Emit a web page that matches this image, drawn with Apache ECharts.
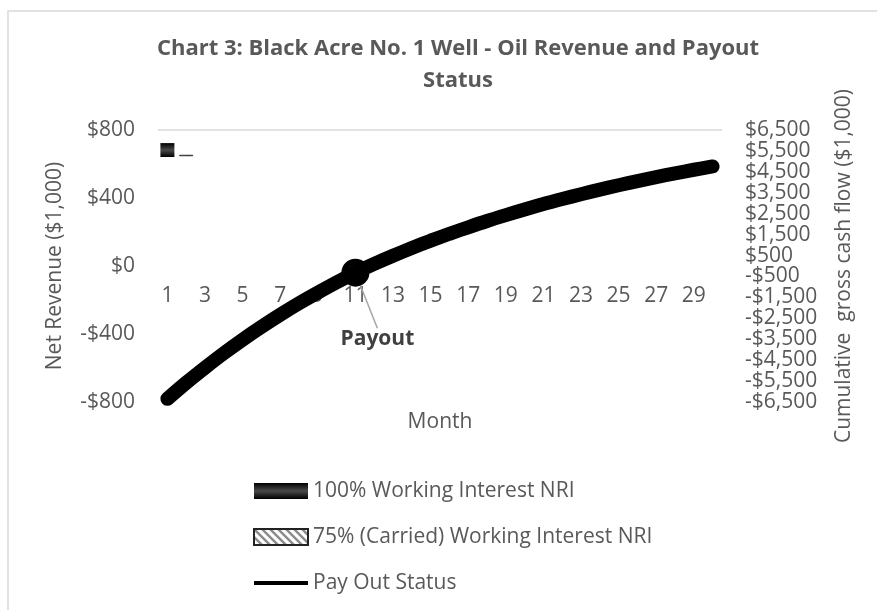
<!DOCTYPE html>
<html>
<head>
<meta charset="utf-8">
<script src="https://cdn.jsdelivr.net/npm/echarts@6/dist/echarts.min.js"></script>
<style>
    html, body {margin: 0; padding: 0; background: #fff;}
    #chart {width: 877px; height: 610px;}
</style>
</head>
<body>
<div id="chart"></div>
<script>
// 数据
const months = ['1', '2', '3', '4', '5', '6', '7', '8', '9', '10', '11', '12', '13', '14', '15',
    '16', '17', '18', '19', '20', '21', '22', '23', '24', '25', '26', '27', '28', '29', '30'];
// net revenue bars ($1,000), only a sliver is shown for the first months
const nri100Top = [723, null];
const nri100Bottom = [641, null];
const nri75Top = [null, 654];
const nri75Bottom = [null, 646];
// cumulative gross cash flow ($1,000)
const payoutStatus = [-6350, -5580, -4860, -4170, -3520, -2910, -2330, -1780, -1270, -780,
    -320, 100, 490, 860, 1210, 1540, 1850, 2150, 2430, 2700,
    2960, 3200, 3430, 3650, 3860, 4060, 4250, 4430, 4600, 4760];
const payoutMonth = '11';
const leftTicks = [-800, -400, 0, 400, 800];

const FONT = '"Open Sans", "Noto Sans", sans-serif';
const GREY = '#595959';

function money(v) {
    let s = '$' + Math.abs(v).toLocaleString('en-US');
    return v < 0 ? '-' + s : s;
}

// hatched fill for the carried interest bars
function stripes() {
    let c = document.createElement('canvas');
    c.width = 8;
    c.height = 8;
    let ctx = c.getContext('2d');
    ctx.fillStyle = '#fff';
    ctx.fillRect(0, 0, 8, 8);
    ctx.strokeStyle = '#8c8c8c';
    ctx.lineWidth = 2.5;
    ctx.beginPath();
    ctx.moveTo(-2, -2);
    ctx.lineTo(10, 10);
    ctx.moveTo(-6, 2);
    ctx.lineTo(2, 10);
    ctx.moveTo(6, -2);
    ctx.lineTo(10, 2);
    ctx.stroke();
    return {image: c, repeat: 'repeat'};
}

const darkBar = new echarts.graphic.LinearGradient(0, 0, 0, 1, [
    {offset: 0, color: '#000'},
    {offset: 0.5, color: '#4a4a4a'},
    {offset: 1, color: '#000'}
]);

let chart = echarts.init(document.getElementById('chart'));
let payoutIdx = months.indexOf(payoutMonth);

chart.setOption({
    animation: false,
    textStyle: {fontFamily: FONT},
    title: {
        text: 'Chart 3: Black Acre No. 1 Well - Oil Revenue and Payout\nStatus',
        left: 458,
        top: 33,
        textAlign: 'center',
        padding: 0,
        textStyle: {fontSize: 22, fontWeight: 'bold', color: GREY, lineHeight: 32, fontFamily: FONT}
    },
    graphic: [{
        type: 'rect',
        shape: {x: 8, y: 11, width: 900, height: 700},
        style: {fill: 'none', stroke: '#d9d9d9', lineWidth: 1.5},
        silent: true
    }],
    legend: {
        orient: 'vertical',
        left: 253,
        top: 480,
        padding: 0,
        itemWidth: 54,
        itemHeight: 16,
        itemGap: 24,
        textStyle: {fontSize: 21, color: GREY, lineHeight: 22, fontFamily: FONT},
        data: [
            {name: '100% Working Interest NRI', icon: 'rect'},
            {name: '75% (Carried) Working Interest NRI', icon: 'rect'},
            {name: 'Pay Out Status', icon: 'path://M0,0H54V4H0Z'}
        ]
    },
    grid: {left: 158, right: 155, top: 130, bottom: 208},
    xAxis: {
        type: 'category',
        data: months,
        position: 'bottom',
        // category labels sit just under the $0 line
        offset: -136,
        name: 'Month',
        nameLocation: 'middle',
        nameGap: 146,
        nameTextStyle: {fontSize: 21, color: GREY},
        axisLine: {show: false, onZero: false},
        axisTick: {show: false},
        axisLabel: {interval: 1, fontSize: 21, color: GREY, margin: 20}
    },
    yAxis: [{
        type: 'value',
        min: leftTicks[0],
        max: leftTicks[leftTicks.length - 1],
        interval: 400,
        name: 'Net Revenue ($1,000)',
        nameLocation: 'middle',
        nameGap: 92,
        nameTextStyle: {fontSize: 21, color: GREY},
        axisLabel: {fontSize: 21, color: GREY, margin: 23, formatter: money},
        splitLine: {
            show: true,
            lineStyle: {color: ['transparent', 'transparent', 'transparent', 'transparent', '#d9d9d9'], width: 1.5}
        }
    }, {
        type: 'value',
        min: -6500,
        max: 6500,
        interval: 500,
        name: 'Cumulative  gross cash flow ($1,000)',
        nameLocation: 'middle',
        nameGap: 112,
        nameTextStyle: {fontSize: 21, color: GREY},
        axisLabel: {
            fontSize: 21,
            color: GREY,
            margin: 23,
            formatter: v => (Math.abs(v) % 1000 === 500 ? money(v) : '')
        },
        splitLine: {show: false}
    }],
    series: [{
        name: 'base100',
        type: 'bar',
        stack: 'a',
        barWidth: 14,
        barGap: '-100%',
        silent: true,
        itemStyle: {color: 'transparent'},
        data: nri100Bottom
    }, {
        name: '100% Working Interest NRI',
        type: 'bar',
        stack: 'a',
        barWidth: 14,
        itemStyle: {color: darkBar},
        data: nri100Top.map((v, i) => (v == null ? null : v - nri100Bottom[i]))
    }, {
        name: 'base75',
        type: 'bar',
        stack: 'b',
        barWidth: 14,
        silent: true,
        itemStyle: {color: 'transparent'},
        data: nri75Bottom
    }, {
        name: '75% (Carried) Working Interest NRI',
        type: 'bar',
        stack: 'b',
        barWidth: 14,
        itemStyle: {color: stripes(), borderColor: '#222', borderWidth: 0.8},
        data: nri75Top.map((v, i) => (v == null ? null : v - nri75Bottom[i]))
    }, {
        name: 'Pay Out Status',
        type: 'line',
        yAxisIndex: 1,
        symbol: 'none',
        smooth: 0.3,
        lineStyle: {color: '#000', width: 14, cap: 'round'},
        itemStyle: {color: '#000'},
        data: payoutStatus
    }, {
        name: 'Payout',
        type: 'scatter',
        yAxisIndex: 1,
        symbol: 'circle',
        symbolSize: 28,
        itemStyle: {
            opacity: 1,
            color: new echarts.graphic.RadialGradient(0.42, 0.42, 0.6, [
                {offset: 0, color: '#2a2a2a'},
                {offset: 0.35, color: '#000'},
                {offset: 1, color: '#000'}
            ])
        },
        label: {
            show: true,
            position: 'inside',
            formatter: 'Payout',
            fontSize: 21,
            fontWeight: 'bold',
            color: '#404040'
        },
        labelLayout: {dx: 22, dy: 66},
        labelLine: {show: true, lineStyle: {color: '#a6a6a6', width: 1.5}},
        data: [[payoutIdx, payoutStatus[payoutIdx]]]
    }]
});
</script>
</body>
</html>
